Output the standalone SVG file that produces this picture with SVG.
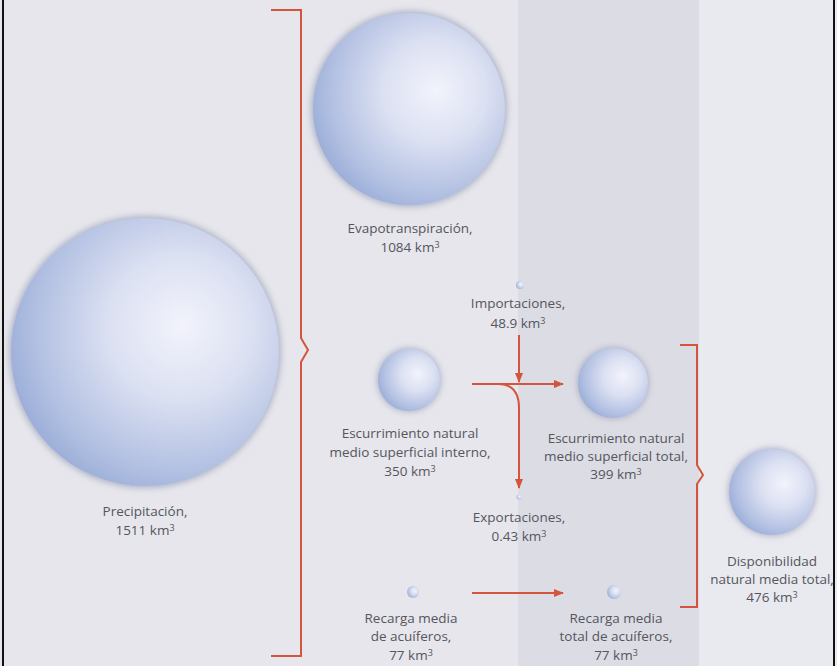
<svg xmlns="http://www.w3.org/2000/svg" width="837" height="666" viewBox="0 0 837 666">
<style>
.t{font-family:"Open Sans","Noto Sans","Liberation Sans",sans-serif;font-size:13.5px;fill:#55565c;text-anchor:middle}
.sup{font-size:9px}
.c{fill:none;stroke:#d4553b;stroke-width:2}
.s{fill:url(#sph)}
.h{fill:#aeb3c6;filter:url(#blur)}
</style>
<defs>
<radialGradient id="sph" cx="0.62" cy="0.42" r="0.68" fx="0.64" fy="0.4">
<stop offset="0" stop-color="#f2f3fb"/>
<stop offset="0.4" stop-color="#dbe0f2"/>
<stop offset="0.78" stop-color="#b2c0e2"/>
<stop offset="1" stop-color="#96aad6"/>
</radialGradient>
<filter id="blur" x="-30%" y="-30%" width="160%" height="160%"><feGaussianBlur stdDeviation="3"/></filter>
<marker id="ah" markerWidth="10" markerHeight="8" refX="9" refY="4" orient="auto" markerUnits="userSpaceOnUse">
<path d="M0,0 L10,4 L0,8 Z" fill="#d4553b"/>
</marker>
</defs>
<rect x="0" y="0" width="837" height="666" fill="#e6e6ec"/>
<rect x="518" y="0" width="181" height="666" fill="#dcdce4"/>
<rect x="699" y="0" width="138" height="666" fill="#e9e9f0"/>
<rect x="2" y="0" width="2" height="666" fill="#111"/>
<rect x="833" y="0" width="2" height="666" fill="#111"/>

<g id="precipitacion">
<circle class="h" cx="145" cy="352" r="136"/>
<circle class="s" cx="145" cy="352" r="134"/>
<text class="t" x="145" y="516">Precipitación,</text>
<text class="t" x="145" y="535">1511 km<tspan class="sup" dy="-4">3</tspan></text>
</g>
<g id="evapotranspiracion">
<circle class="h" cx="409" cy="109" r="98"/>
<circle class="s" cx="409" cy="109" r="96"/>
<text class="t" x="410" y="233">Evapotranspiración,</text>
<text class="t" x="410" y="252">1084 km<tspan class="sup" dy="-4">3</tspan></text>
</g>
<g id="importaciones">
<circle class="s" cx="520" cy="285" r="4"/>
<text class="t" x="518" y="308">Importaciones,</text>
<text class="t" x="518" y="328">48.9 km<tspan class="sup" dy="-4">3</tspan></text>
</g>
<g id="escurrimiento-interno">
<circle class="h" cx="409" cy="380" r="32"/>
<circle class="s" cx="409" cy="380" r="31"/>
<text class="t" x="410" y="438">Escurrimiento natural</text>
<text class="t" x="410" y="457">medio superficial interno,</text>
<text class="t" x="410" y="476">350 km<tspan class="sup" dy="-4">3</tspan></text>
</g>
<g id="escurrimiento-total">
<circle class="h" cx="613" cy="383" r="36"/>
<circle class="s" cx="613" cy="383" r="35"/>
<text class="t" x="616" y="443">Escurrimiento natural</text>
<text class="t" x="616" y="461">medio superficial total,</text>
<text class="t" x="616" y="479">399 km<tspan class="sup" dy="-4">3</tspan></text>
</g>
<g id="exportaciones">
<circle class="s" cx="519" cy="497" r="2.5"/>
<text class="t" x="519" y="522">Exportaciones,</text>
<text class="t" x="519" y="541">0.43 km<tspan class="sup" dy="-4">3</tspan></text>
</g>
<g id="recarga-media">
<circle class="s" cx="413" cy="592" r="6"/>
<text class="t" x="411" y="623">Recarga media</text>
<text class="t" x="411" y="641">de acuíferos,</text>
<text class="t" x="411" y="660">77 km<tspan class="sup" dy="-4">3</tspan></text>
</g>
<g id="recarga-total">
<circle class="s" cx="614" cy="592" r="7"/>
<text class="t" x="616" y="623">Recarga media</text>
<text class="t" x="616" y="641">total de acuíferos,</text>
<text class="t" x="616" y="660">77 km<tspan class="sup" dy="-4">3</tspan></text>
</g>
<g id="disponibilidad">
<circle class="h" cx="772" cy="492" r="44"/>
<circle class="s" cx="772" cy="492" r="43"/>
<text class="t" x="772" y="566">Disponibilidad</text>
<text class="t" x="772" y="584">natural media total,</text>
<text class="t" x="772" y="602">476 km<tspan class="sup" dy="-4">3</tspan></text>
</g>

<g id="connectors">
<path class="c" d="M271,10 H301 V338 L308,350 L301,362 V656 H271"/>
<path class="c" d="M680,345 H697 V465 L703,475 L697,484 V607 H680"/>
<path class="c" d="M519,335 V382" marker-end="url(#ah)"/>
<path class="c" d="M472,384 H563" marker-end="url(#ah)"/>
<path class="c" d="M498,384 C512,384 519,392 519,408 V488" marker-end="url(#ah)"/>
<path class="c" d="M472,593 H563" marker-end="url(#ah)"/>
</g>
</svg>
